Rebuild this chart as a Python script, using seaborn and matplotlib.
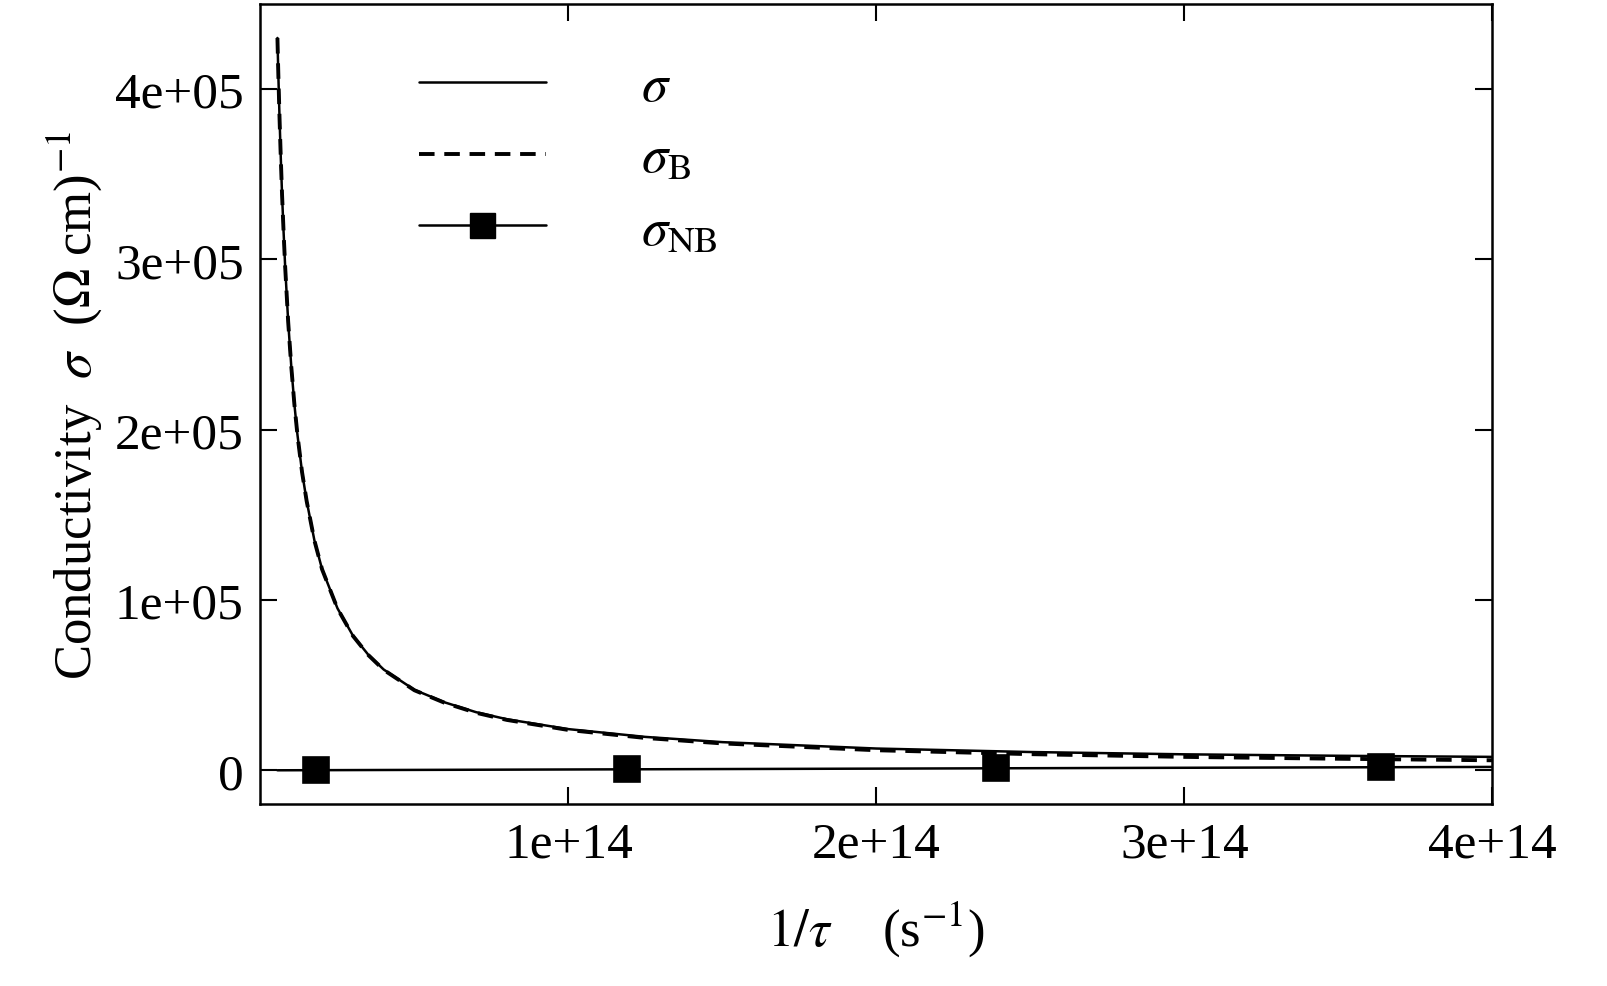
import numpy as np
import pandas as pd
import seaborn as sns
import matplotlib.pyplot as plt

# values (x in s^-1, sigma in (Ohm cm)^-1)
inv_tau = [0.055e14, 0.058e14, 0.062e14, 0.066e14, 0.07e14, 0.075e14, 0.08e14, 0.09e14,
           0.1e14, 0.11e14, 0.12e14, 0.135e14, 0.15e14, 0.175e14, 0.2e14,
           0.25e14, 0.3e14, 0.35e14, 0.4e14, 0.5e14, 0.6e14, 0.7e14, 0.8e14, 1.0e14, 1.25e14,
           1.5e14, 2.0e14, 2.5e14, 3.0e14, 3.5e14, 4.0e14]
sigma_b = [4.30e5, 4.08e5, 3.82e5, 3.59e5, 3.38e5, 3.16e5, 2.96e5, 2.63e5,
           2.37e5, 2.15e5, 1.97e5, 1.75e5, 1.58e5, 1.35e5, 1.18e5,
           0.95e5, 0.79e5, 0.677e5, 0.59e5, 0.47e5, 0.395e5, 0.338e5, 0.296e5, 0.237e5, 0.19e5,
           0.158e5, 0.118e5, 0.095e5, 0.079e5, 0.068e5, 0.059e5]
sigma_nb = [30, 30, 31, 33, 35, 38, 40, 45, 50, 55, 60, 68, 75, 88, 100,
            125, 150, 175, 200, 250, 300, 350, 400, 500, 625,
            750, 1000, 1250, 1500, 1750, 2000]
sigma_tot = [b + n for b, n in zip(sigma_b, sigma_nb)]
marker_x = [0.18e14, 1.19e14, 2.39e14, 3.64e14]
marker_y = [90, 600, 1200, 1820]

df = pd.DataFrame({'x': inv_tau, 'sigma': sigma_tot, 'sigma_B': sigma_b, 'sigma_NB': sigma_nb})
dm = pd.DataFrame({'x': marker_x, 'y': marker_y})

sns.set_theme(style='ticks')
plt.rcParams['font.family'] = ['Liberation Serif', 'DejaVu Serif']
plt.rcParams['mathtext.fontset'] = 'stix'
plt.rcParams['text.color'] = 'black'
plt.rcParams['axes.labelcolor'] = 'black'
plt.rcParams['xtick.color'] = 'black'
plt.rcParams['ytick.color'] = 'black'
plt.rcParams['axes.edgecolor'] = 'black'

fig = plt.figure(figsize=(16.08, 9.87), dpi=100)
ax = fig.add_axes([0.162, 0.184, 0.766, 0.811])

sns.lineplot(data=df, x='x', y='sigma', color='black', lw=1.8, ax=ax, label=r'$\sigma$')
sns.lineplot(data=df, x='x', y='sigma_B', color='black', lw=2.8, ls=(0, (4, 2.5)), ax=ax,
             label=r'$\sigma_{\rm B}$')
sns.lineplot(data=df, x='x', y='sigma_NB', color='black', lw=1.8, ax=ax, legend=False)
sns.scatterplot(data=dm, x='x', y='y', marker='s', s=450, color='black', ax=ax, legend=False)
ax.plot([], [], color='black', lw=1.8, marker='s', ms=18, label=r'$\sigma_{\rm NB}$')

ax.set_xlim(0, 4.0e14)
ax.set_ylim(-0.2e5, 4.5e5)
ax.set_xticks([1e14, 2e14, 3e14, 4e14])
ax.set_xticklabels(['1e+14', '2e+14', '3e+14', '4e+14'])
ax.set_yticks([0, 1e5, 2e5, 3e5, 4e5])
ax.set_yticklabels(['0', '1e+05', '2e+05', '3e+05', '4e+05'])
ax.tick_params(direction='in', top=True, right=True, length=12, width=1.5, labelsize=37, pad=12)
for s in ax.spines.values():
    s.set_linewidth(1.8)

ax.set_xlabel(r'$\mathit{1/\tau}$    (s$^{-1}$)', fontsize=38, labelpad=22)
ax.set_ylabel(r'Conductivity  $\sigma$  ($\Omega$ cm)$^{-1}$', fontsize=38, labelpad=8)

leg = ax.legend(loc='upper left', bbox_to_anchor=(0.09, 0.985), frameon=False, fontsize=38,
                handlelength=2.4, labelspacing=0.45, handletextpad=1.8)

fig.savefig('out.png', dpi=100)
